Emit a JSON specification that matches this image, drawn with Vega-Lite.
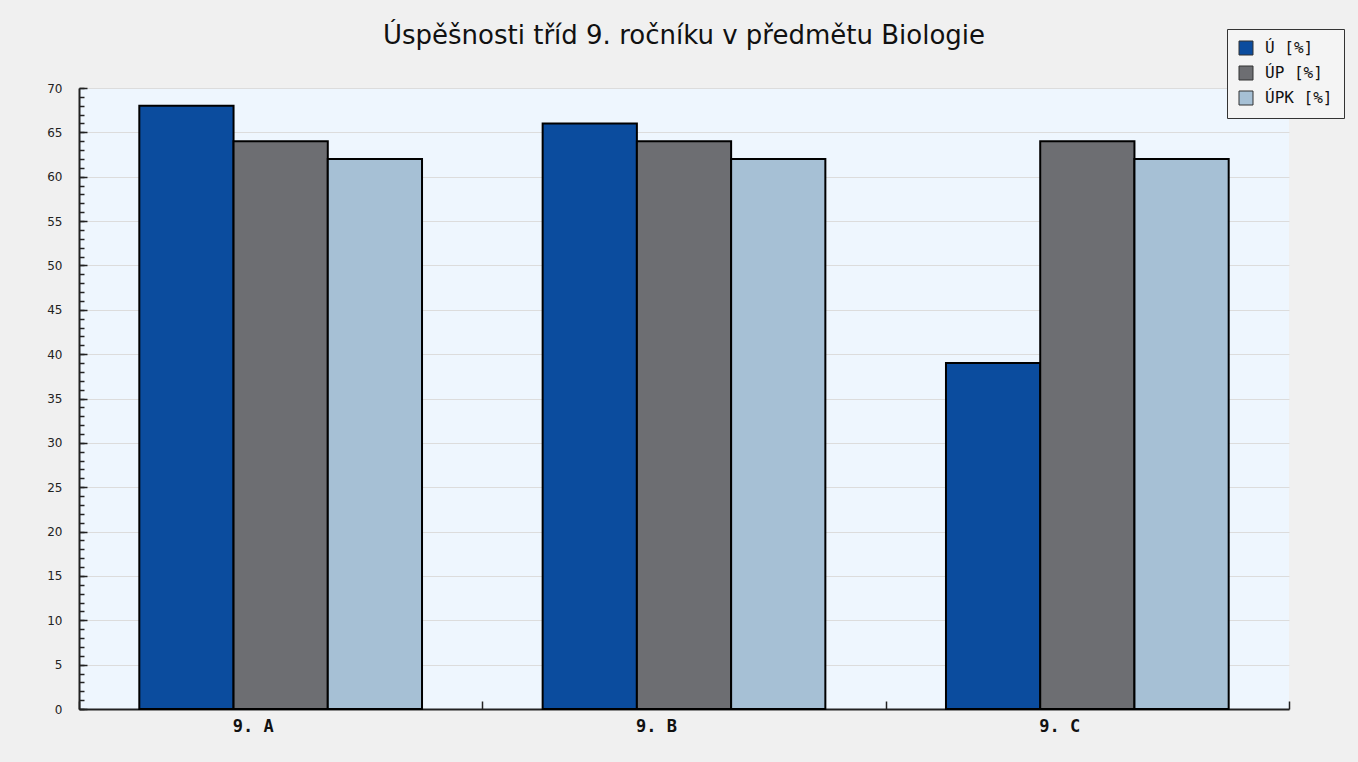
{
  "$schema": "https://vega.github.io/schema/vega-lite/v6.json",
  "width": 1210,
  "height": 621,
  "autosize": {"type": "none"},
  "padding": {"left": 79, "top": 88, "right": 69, "bottom": 53},
  "background": "#f0f0f0",
  "title": {
    "text": "Úspěšnosti tříd 9. ročníku v předmětu Biologie",
    "font": "DejaVu Sans",
    "fontSize": 26,
    "fontWeight": "normal",
    "color": "#111111",
    "anchor": "middle",
    "frame": "group",
    "offset": -20
  },
  "config": {
    "view": {"fill": "#eef6fe", "stroke": null}
  },
  "data": {
    "values": [
      {"trida": "9. A", "ukazatel": "Ú [%]", "hodnota": 68},
      {"trida": "9. A", "ukazatel": "ÚP [%]", "hodnota": 64},
      {"trida": "9. A", "ukazatel": "ÚPK [%]", "hodnota": 62},
      {"trida": "9. B", "ukazatel": "Ú [%]", "hodnota": 66},
      {"trida": "9. B", "ukazatel": "ÚP [%]", "hodnota": 64},
      {"trida": "9. B", "ukazatel": "ÚPK [%]", "hodnota": 62},
      {"trida": "9. C", "ukazatel": "Ú [%]", "hodnota": 39},
      {"trida": "9. C", "ukazatel": "ÚP [%]", "hodnota": 64},
      {"trida": "9. C", "ukazatel": "ÚPK [%]", "hodnota": 62}
    ]
  },
  "resolve": {"axis": {"y": "independent"}},
  "layer": [
    {
      "mark": {"type": "bar", "stroke": "#000000", "strokeWidth": 2},
      "encoding": {
        "x": {
          "field": "trida",
          "type": "nominal",
          "scale": {"paddingInner": 0, "paddingOuter": 0},
          "axis": {
            "title": null,
            "labelAngle": 0,
            "labelFont": "DejaVu Sans Mono",
            "labelFontWeight": "bold",
            "labelFontSize": 17,
            "labelColor": "#111111",
            "labelPadding": 17,
            "labelOffset": -28,
            "domainColor": "#222222",
            "domainWidth": 2,
            "tickBand": "extent",
            "tickColor": "#222222",
            "tickWidth": 1.5,
            "tickSize": -8,
            "grid": false
          }
        },
        "xOffset": {
          "field": "ukazatel",
          "type": "nominal",
          "sort": ["Ú [%]", "ÚP [%]", "ÚPK [%]"],
          "scale": {"paddingInner": 0, "paddingOuter": 0.64}
        },
        "y": {
          "field": "hodnota",
          "type": "quantitative",
          "scale": {"domain": [0, 70], "nice": false},
          "axis": {
            "title": null,
            "orient": "left",
            "values": [0, 5, 10, 15, 20, 25, 30, 35, 40, 45, 50, 55, 60, 65, 70],
            "labelFont": "DejaVu Sans",
            "labelFontSize": 12,
            "labelColor": "#222222",
            "labelPadding": 25,
            "domainColor": "#222222",
            "domainWidth": 2,
            "tickColor": "#222222",
            "tickWidth": 1.5,
            "tickSize": -8,
            "grid": true,
            "gridColor": "#dcdcdc",
            "gridWidth": 1
          }
        },
        "color": {
          "field": "ukazatel",
          "type": "nominal",
          "sort": ["Ú [%]", "ÚP [%]", "ÚPK [%]"],
          "scale": {"domain": ["Ú [%]", "ÚP [%]", "ÚPK [%]"], "range": ["#0b4c9e", "#6d6e72", "#a6c0d5"]},
          "legend": {
            "title": null,
            "orient": "none",
            "legendX": 1148,
            "legendY": -59,
            "symbolType": "square",
            "symbolSize": 196,
            "symbolStrokeColor": "#333333",
            "symbolStrokeWidth": 1,
            "symbolOpacity": 1,
            "labelFont": "DejaVu Sans Mono",
            "labelFontSize": 16,
            "labelColor": "#111111",
            "labelOffset": 11,
            "rowPadding": 7,
            "padding": 11,
            "fillColor": "#f4f4f4",
            "strokeColor": "#333333"
          }
        }
      }
    },
    {
      "mark": {"type": "point", "opacity": 0},
      "encoding": {
        "y": {
          "field": "hodnota",
          "type": "quantitative",
          "scale": {"domain": [0, 70], "nice": false},
          "axis": {
            "title": null,
            "orient": "left",
            "values": [0,1,2,3,4,5,6,7,8,9,10,11,12,13,14,15,16,17,18,19,20,21,22,23,24,25,26,27,28,29,30,31,32,33,34,35,36,37,38,39,40,41,42,43,44,45,46,47,48,49,50,51,52,53,54,55,56,57,58,59,60,61,62,63,64,65,66,67,68,69,70],
            "labels": false,
            "domain": false,
            "grid": false,
            "tickColor": "#222222",
            "tickWidth": 1.5,
            "tickSize": -5
          }
        }
      }
    }
  ]
}
